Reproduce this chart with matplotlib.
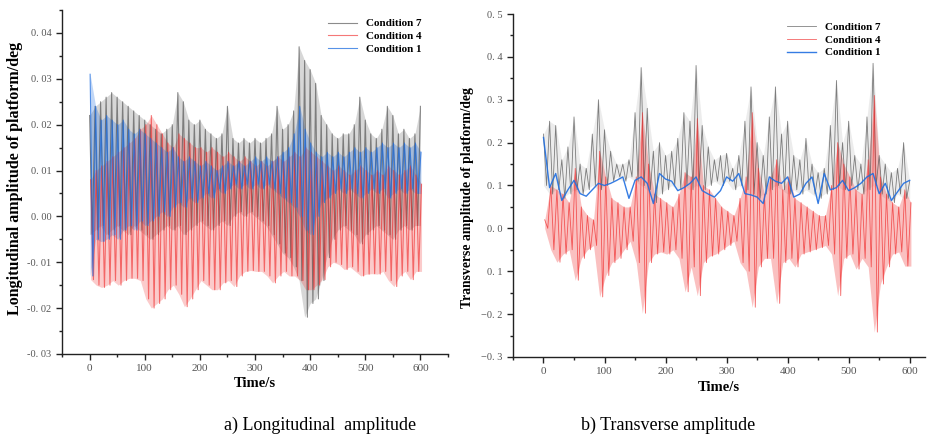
import numpy as np
import matplotlib
matplotlib.use("Agg")
import matplotlib.pyplot as plt
from matplotlib.ticker import MultipleLocator, FixedLocator, FixedFormatter

plt.rcParams['font.family'] = ['Liberation Serif', 'DejaVu Serif']

# time grid of the envelope readings (s)
t10 = np.arange(0, 601, 10)

# ---- a) longitudinal amplitude: peaks (at t) and troughs (at t+5) ----
c7_long_hi = [0.022, 0.024, 0.025, 0.026, 0.027, 0.026, 0.025, 0.024, 0.023, 0.022,
              0.021, 0.020, 0.019, 0.018, 0.019, 0.020, 0.027, 0.025, 0.021, 0.020,
              0.021, 0.019, 0.018, 0.017, 0.018, 0.024, 0.017, 0.016, 0.017, 0.016,
              0.017, 0.016, 0.017, 0.018, 0.024, 0.019, 0.020, 0.023, 0.037, 0.034,
              0.032, 0.029, 0.022, 0.020, 0.018, 0.017, 0.018, 0.018, 0.020, 0.026,
              0.021, 0.018, 0.017, 0.019, 0.024, 0.022, 0.018, 0.019, 0.017, 0.018, 0.024]
c7_long_lo = [-0.004, -0.003, -0.002, -0.004, -0.003, -0.002, -0.003, -0.004, -0.002, -0.003,
              -0.004, -0.005, -0.004, -0.003, -0.002, -0.003, -0.002, -0.004, -0.003, -0.002,
              -0.001, -0.002, -0.003, -0.002, -0.001, -0.002, 0.000, 0.001, 0.000, 0.001,
              0.000, -0.001, -0.002, -0.004, -0.006, -0.008, -0.009, -0.011, -0.014, -0.022,
              -0.019, -0.018, -0.014, -0.009, -0.005, -0.003, -0.002, -0.003, -0.004, -0.006,
              -0.004, -0.003, -0.002, -0.003, -0.004, -0.005, -0.003, -0.002, -0.003, -0.002]
c4_long_hi = [0.008, 0.010, 0.011, 0.012, 0.013, 0.014, 0.015, 0.016, 0.017, 0.019,
              0.020, 0.022, 0.020, 0.018, 0.016, 0.015, 0.018, 0.017, 0.016, 0.015,
              0.015, 0.014, 0.015, 0.014, 0.013, 0.014, 0.013, 0.012, 0.013, 0.012,
              0.011, 0.012, 0.011, 0.012, 0.013, 0.012, 0.013, 0.014, 0.013, 0.015,
              0.014, 0.013, 0.012, 0.011, 0.010, 0.011, 0.010, 0.009, 0.010, 0.011,
              0.010, 0.009, 0.010, 0.009, 0.011, 0.010, 0.009, 0.010, 0.011, 0.009, 0.007]
c4_long_lo = [-0.0138, -0.015, -0.0155, -0.015, -0.014, -0.015, -0.014, -0.0135, -0.0135, -0.014,
              -0.018, -0.020, -0.019, -0.018, -0.016, -0.015, -0.017, -0.0197, -0.018, -0.016,
              -0.014, -0.015, -0.016, -0.016, -0.0145, -0.014, -0.0153, -0.013, -0.012, -0.0118,
              -0.012, -0.012, -0.013, -0.0145, -0.013, -0.012, -0.013, -0.013, -0.014, -0.016,
              -0.016, -0.015, -0.0138, -0.011, -0.010, -0.0105, -0.0116, -0.011, -0.012, -0.013,
              -0.0126, -0.0125, -0.0126, -0.012, -0.014, -0.0153, -0.013, -0.012, -0.0138, -0.012]
c1_long_hi = [0.031, 0.024, 0.021, 0.022, 0.021, 0.020, 0.021, 0.019, 0.018, 0.019,
              0.018, 0.017, 0.016, 0.015, 0.014, 0.015, 0.013, 0.012, 0.013, 0.012,
              0.011, 0.012, 0.011, 0.010, 0.011, 0.012, 0.011, 0.012, 0.011, 0.012,
              0.013, 0.012, 0.013, 0.012, 0.013, 0.014, 0.015, 0.018, 0.024, 0.019,
              0.016, 0.014, 0.013, 0.014, 0.013, 0.014, 0.013, 0.014, 0.015, 0.014,
              0.015, 0.014, 0.015, 0.016, 0.015, 0.016, 0.015, 0.016, 0.015, 0.016, 0.014]
c1_long_lo = [-0.013, -0.005, -0.0055, -0.005, -0.004, -0.005, -0.003, -0.002, -0.003, -0.001,
              -0.002, -0.001, 0.000, 0.001, 0.000, 0.002, 0.003, 0.002, 0.004, 0.003,
              0.004, 0.005, 0.004, 0.006, 0.005, 0.006, 0.007, 0.006, 0.007, 0.006,
              0.007, 0.006, 0.007, 0.006, 0.005, 0.004, 0.003, 0.002, 0.000, -0.003,
              -0.004, 0.000, 0.003, 0.004, 0.005, 0.006, 0.005, 0.006, 0.005, 0.004,
              0.005, 0.006, 0.005, 0.006, 0.004, 0.005, 0.006, 0.005, 0.006, 0.005]

# ---- b) transverse amplitude ----
c7_tran_hi = [0.22, 0.25, 0.24, 0.16, 0.19, 0.26, 0.15, 0.14, 0.22, 0.30,
              0.23, 0.18, 0.15, 0.15, 0.16, 0.27, 0.375, 0.28, 0.18, 0.20,
              0.17, 0.18, 0.21, 0.27, 0.25, 0.38, 0.24, 0.19, 0.16, 0.17,
              0.175, 0.14, 0.17, 0.25, 0.33, 0.20, 0.17, 0.26, 0.33, 0.22,
              0.25, 0.17, 0.16, 0.21, 0.15, 0.13, 0.14, 0.24, 0.345, 0.20,
              0.25, 0.17, 0.15, 0.26, 0.385, 0.17, 0.15, 0.13, 0.14, 0.20, 0.11]
c7_tran_lo = [0.10, 0.08, 0.09, 0.07, 0.08, 0.09, 0.08, 0.09, 0.10, 0.09,
              0.10, 0.11, 0.12, 0.11, 0.12, 0.11, 0.10, 0.09, 0.06, 0.08,
              0.09, 0.10, 0.09, 0.10, 0.09, 0.10, 0.09, 0.10, 0.11, 0.10,
              0.11, 0.09, 0.10, 0.09, 0.08, 0.07, 0.08, 0.09, 0.10, 0.09,
              0.08, 0.09, 0.08, 0.09, 0.08, 0.07, 0.08, 0.09, 0.10, 0.09,
              0.10, 0.09, 0.08, 0.09, 0.10, 0.08, 0.07, 0.06, 0.08, 0.07]
c4_tran_hi = [0.02, 0.10, 0.09, 0.08, 0.06, 0.14, 0.05, 0.03, 0.02, 0.18,
              0.12, 0.07, 0.06, 0.05, 0.05, 0.12, 0.27, 0.15, 0.08, 0.07,
              0.06, 0.05, 0.08, 0.13, 0.12, 0.256, 0.10, 0.09, 0.07, 0.05,
              0.04, 0.03, 0.07, 0.12, 0.27, 0.14, 0.08, 0.12, 0.16, 0.09,
              0.12, 0.07, 0.06, 0.05, 0.04, 0.03, 0.03, 0.10, 0.20, 0.15,
              0.12, 0.09, 0.08, 0.16, 0.31, 0.12, 0.08, 0.06, 0.05, 0.09, 0.06]
c4_tran_lo = [0.0, -0.05, -0.079, -0.06, -0.05, -0.121, -0.07, -0.05, -0.04, -0.16,
              -0.11, -0.08, -0.07, -0.05, -0.03, -0.08, -0.198, -0.08, -0.06, -0.055,
              -0.06, -0.05, -0.07, -0.148, -0.09, -0.157, -0.08, -0.065, -0.06, -0.05,
              -0.04, -0.03, -0.08, -0.10, -0.184, -0.09, -0.07, -0.07, -0.175, -0.08,
              -0.07, -0.09, -0.06, -0.055, -0.05, -0.045, -0.04, -0.06, -0.157, -0.07,
              -0.06, -0.095, -0.07, -0.09, -0.242, -0.13, -0.09, -0.06, -0.055, -0.088]
c1_tran = [0.212, 0.095, 0.128, 0.065, 0.09, 0.112, 0.081, 0.075, 0.09, 0.105,
           0.10, 0.105, 0.112, 0.12, 0.07, 0.112, 0.12, 0.105, 0.058, 0.128,
           0.115, 0.11, 0.088, 0.095, 0.105, 0.12, 0.088, 0.08, 0.073, 0.088,
           0.12, 0.11, 0.128, 0.081, 0.078, 0.073, 0.058, 0.12, 0.11, 0.105,
           0.12, 0.073, 0.08, 0.105, 0.12, 0.058, 0.128, 0.09, 0.095, 0.112,
           0.088, 0.095, 0.105, 0.12, 0.128, 0.081, 0.105, 0.065, 0.085, 0.105, 0.112]

labels = ["Condition 7", "Condition 4", "Condition 1"]
long_ticks = ["-0. 03", "-0. 02", "-0. 01", "0. 00", "0. 01", "0. 02", "0. 03", "0. 04"]
tran_ticks = ["\u22120. 3", "\u22120. 2", "0. 1", "0. 0", "0. 1", "0. 2", "0. 3", "0. 4", "0. 5"]

GRAY, RED, BLUE = '#4d4d4d', '#f03030', '#1f6ee0'


def zigzag(hi, lo):
    # peaks at t, troughs half a step later
    tt = np.empty(len(hi) + len(lo))
    vv = np.empty(len(hi) + len(lo))
    tt[0::2] = t10
    tt[1::2] = t10[:-1] + 5
    vv[0::2] = hi
    vv[1::2] = lo
    return tt, vv


def draw_band(ax, hi, lo, color, lw, alpha, band_alpha, label, shift=0):
    # faint band between the read envelopes, then the oscillation on top
    lo_full = list(lo) + [lo[-1]]
    ax.fill_between(t10 + shift, lo_full, hi, color=color, alpha=band_alpha, lw=0)
    tt, vv = zigzag(hi, lo)
    ax.plot(tt + shift, vv, color=color, lw=lw, alpha=alpha, label=label)


def style_axes(ax, xmax, yticks, ylabels, yminor, ylabel, ysize, leg_anchor):
    ax.spines['top'].set_visible(False)
    ax.spines['right'].set_visible(False)
    for s in ['left', 'bottom']:
        ax.spines[s].set_linewidth(1.0)
        ax.spines[s].set_color('#222222')
    ax.set_xlim(-50, xmax)
    ax.xaxis.set_major_locator(MultipleLocator(100))
    ax.xaxis.set_minor_locator(MultipleLocator(50))
    ax.yaxis.set_major_locator(FixedLocator(yticks))
    ax.yaxis.set_major_formatter(FixedFormatter(ylabels))
    ax.yaxis.set_minor_locator(MultipleLocator(yminor))
    ax.tick_params(which='major', direction='out', length=4, width=1, colors='#222222',
                   labelsize=8, labelcolor='#555555')
    ax.tick_params(axis='y', labelsize=7.5)
    ax.tick_params(which='minor', direction='out', length=2.5, width=1, colors='#222222')
    ax.set_xlabel("Time/s", fontsize=10.5, fontweight='bold', labelpad=3)
    ax.set_ylabel(ylabel, fontsize=ysize, fontweight='bold', labelpad=3)
    ax.legend(loc='upper left', bbox_to_anchor=leg_anchor, frameon=False,
              handlelength=2.6, handletextpad=0.8, labelspacing=0.25,
              borderaxespad=0, borderpad=0, prop={'weight': 'bold', 'size': 8})


fig = plt.figure(figsize=(9.31, 4.38), dpi=100)

ax1 = fig.add_axes([0.0666, 0.192, 0.4146, 0.785])
draw_band(ax1, c7_long_hi, c7_long_lo, GRAY, 0.8, 0.65, 0.22, labels[0])
draw_band(ax1, c4_long_hi, c4_long_lo, RED, 0.8, 0.65, 0.25, labels[1], shift=2)
draw_band(ax1, c1_long_hi, c1_long_lo, BLUE, 0.8, 0.75, 0.28, labels[2], shift=1)
ax1.set_ylim(-0.03, 0.045)
style_axes(ax1, 650, np.arange(-0.03, 0.041, 0.01), long_ticks, 0.005,
           "Longitudinal amplitude of platform/deg", 11.5, (0.69, 0.975))
ax1.yaxis.set_label_coords(-0.1, 0.51)

ax2 = fig.add_axes([0.551, 0.185, 0.4425, 0.783])
draw_band(ax2, c7_tran_hi, c7_tran_lo, GRAY, 0.6, 0.7, 0.1, labels[0])
draw_band(ax2, c4_tran_hi, c4_tran_lo, RED, 0.6, 0.75, 0.3, labels[1], shift=2)
ax2.plot(t10, c1_tran, color=BLUE, lw=1.0, alpha=0.9, label=labels[2])
ax2.set_ylim(-0.3, 0.5)
style_axes(ax2, 625, np.arange(-0.3, 0.51, 0.1), tran_ticks, 0.05,
           "Transverse amplitude of platform/deg", 9.8, (0.665, 0.975))
ax2.yaxis.set_label_coords(-0.095, 0.464)

fig.text(0.344, 0.03, "a) Longitudinal  amplitude", fontsize=13, ha='center', va='center')
fig.text(0.718, 0.03, "b) Transverse amplitude", fontsize=13, ha='center', va='center')

fig.savefig("out.png", dpi=100)
